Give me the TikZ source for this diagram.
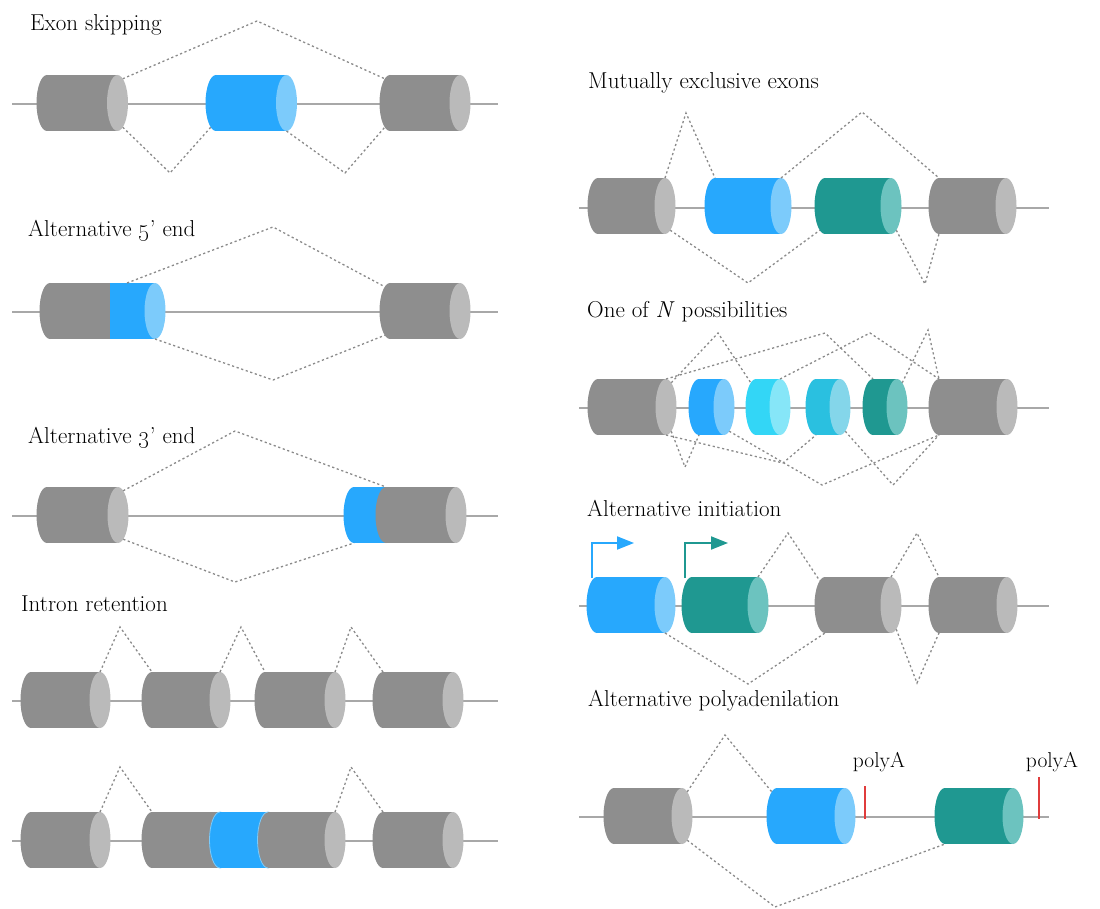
\documentclass[tikz,border=0pt]{standalone}
\usetikzlibrary{arrows.meta}
\definecolor{gbody}{HTML}{8E8E8E}
\definecolor{gcap}{HTML}{BABABA}
\definecolor{bbody}{HTML}{27A8FD}
\definecolor{bcap}{HTML}{7CCBFB}
\definecolor{tbody}{HTML}{1F9891}
\definecolor{tcap}{HTML}{6CC3BF}
\definecolor{cbody}{HTML}{33D6F6}
\definecolor{ccap}{HTML}{86E6F8}
\definecolor{sbody}{HTML}{2AC0E0}
\definecolor{scap}{HTML}{84D6EA}
\definecolor{dashc}{HTML}{8A8A8A}
\definecolor{linec}{HTML}{A8A8A8}
\definecolor{polyred}{HTML}{E03C3C}
\newcommand{\exseg}[4]{%
  \fill[#4] (#1,#3) ellipse[x radius=10.5pt,y radius=28pt];
  \fill[#4] (#1,#3-28) rectangle (#2,#3+28);}
\newcommand{\exsegedge}[5]{%
  \filldraw[fill=#4,draw=#5,line width=0.8pt] (#1,#3) ellipse[x radius=10.5pt,y radius=28pt];
  \fill[#4] (#1,#3-28) rectangle (#2,#3+28);}
\newcommand{\excapat}[3]{\fill[#3] (#1,#2) ellipse[x radius=10.5pt,y radius=28pt];}
\newcommand{\exanchors}[4]{%
  \coordinate (#1-tl) at (#2,#4-28);
  \coordinate (#1-bl) at (#2,#4+28);
  \coordinate (#1-tr) at (#3,#4-28);
  \coordinate (#1-br) at (#3,#4+28);
  \path (#2,#4) ++(120:10.5pt and 28pt) coordinate (#1-nw);
  \path (#2,#4) ++(240:10.5pt and 28pt) coordinate (#1-sw);
  \path (#3,#4) ++(60:10.5pt and 28pt) coordinate (#1-ne);
  \path (#3,#4) ++(-60:10.5pt and 28pt) coordinate (#1-se);}
\newcommand{\exon}[6]{\exseg{#2}{#3}{#4}{#5}\excapat{#3}{#4}{#6}\exanchors{#1}{#2}{#3}{#4}}
\begin{document}
\begin{tikzpicture}[x=1pt,y=-1pt,
  splice/.style={draw=dashc,line width=1.3pt,dash pattern=on 2.2pt off 2.6pt},
  dna/.style={draw=linec,line width=2pt},
  title/.style={anchor=base west,inner sep=0pt,font=\fontsize{23}{27}\selectfont,text=black},
  plabel/.style={anchor=base,inner sep=0pt,font=\fontsize{21.5}{25}\selectfont,text=black},
  tss/.style={line width=2pt,-{Triangle[length=17pt,width=13pt]}},
  polytick/.style={draw=polyred,line width=2pt}]
\useasboundingbox (0,0) rectangle (1100,909);

% ---------- Exon skipping ----------
\node[title] (t1) at (30,31) {Exon skipping};
\coordinate (l1a) at (12,104); \coordinate (l1b) at (498,104);
\draw[dna] (l1a) -- (l1b);
\exon{es1}{47}{117.5}{103}{gbody}{gcap}
\exon{es2}{216}{286.5}{103}{bbody}{bcap}
\exon{es3}{390}{460}{103}{gbody}{gcap}
\coordinate (es-up) at (257,21);
\coordinate (es-lo1) at (170,173);
\coordinate (es-lo2) at (345,173);
\draw[splice] (es1-ne) -- (es-up) -- (es3-nw);
\draw[splice] (es1-se) -- (es-lo1) -- (es2-sw);
\draw[splice] (es2-br) -- (es-lo2) -- (es3-sw);

% ---------- Alternative 5' end ----------
\node[title] (t2) at (28,237) {Alternative \oldstylenums{5}' end};
\coordinate (l2a) at (12,312); \coordinate (l2b) at (498,312);
\draw[dna] (l2a) -- (l2b);
\exseg{50}{110}{311}{gbody}
\fill[bbody] (110,283) rectangle (155,339);
\excapat{155}{311}{bcap}
\exanchors{f1}{50}{155}{311}
\coordinate (f1-bt) at (127,283);
\exon{f2}{390}{460}{311}{gbody}{gcap}
\coordinate (f-up) at (273,227);
\coordinate (f-lo) at (273,380);
\draw[splice] (f1-bt) -- (f-up) -- (f2-nw);
\draw[splice] (f1-br) -- (f-lo) -- (f2-sw);

% ---------- Alternative 3' end ----------
\node[title] (t3) at (28,443) {Alternative \oldstylenums{3}' end};
\coordinate (l3a) at (12,516); \coordinate (l3b) at (498,516);
\draw[dna] (l3a) -- (l3b);
\exon{g1}{47}{118}{515}{gbody}{gcap}
\exseg{354}{386}{515}{bbody}
\exseg{386}{456}{515}{gbody}
\excapat{456}{515}{gcap}
\exanchors{g2}{354}{456}{515}
\coordinate (g2-mid) at (386,487);
\coordinate (g-up) at (235,431);
\coordinate (g-lo) at (235,582);
\draw[splice] (g1-ne) -- (g-up) -- (g2-mid);
\draw[splice] (g1-se) -- (g-lo) -- (g2-bl);

% ---------- Intron retention ----------
\node[title] (t4) at (21,611) {Intron retention};
\coordinate (l4a) at (12,701); \coordinate (l4b) at (498,701);
\draw[dna] (l4a) -- (l4b);
\exon{ia1}{31}{100}{700}{gbody}{gcap}
\exon{ia2}{152}{220}{700}{gbody}{gcap}
\exon{ia3}{265}{335}{700}{gbody}{gcap}
\exon{ia4}{383}{453}{700}{gbody}{gcap}
\coordinate (ia-p1) at (120,627);
\coordinate (ia-p2) at (241,627);
\coordinate (ia-p3) at (351,627);
\draw[splice] (ia1-tr) -- (ia-p1) -- (ia2-tl);
\draw[splice] (ia2-tr) -- (ia-p2) -- (ia3-tl);
\draw[splice] (ia3-tr) -- (ia-p3) -- (ia4-tl);

\coordinate (l5a) at (12,841); \coordinate (l5b) at (498,841);
\draw[dna] (l5a) -- (l5b);
\exon{jb1}{31}{100}{840}{gbody}{gcap}
\exseg{152}{220}{840}{gbody}
\exsegedge{220}{268}{840}{bbody}{bcap}
\exsegedge{268}{335}{840}{gbody}{bcap}
\excapat{335}{840}{gcap}
\exanchors{jb2}{152}{335}{840}
\exon{jb4}{383}{453}{840}{gbody}{gcap}
\coordinate (jb-p1) at (120,767);
\coordinate (jb-p3) at (351,767);
\draw[splice] (jb1-tr) -- (jb-p1) -- (jb2-tl);
\draw[splice] (jb2-tr) -- (jb-p3) -- (jb4-tl);

% ---------- Mutually exclusive exons ----------
\node[title] (t5) at (588,89) {Mutually exclusive exons};
\coordinate (l6a) at (579,208); \coordinate (l6b) at (1049,208);
\draw[dna] (l6a) -- (l6b);
\exon{m1}{598}{665}{206}{gbody}{gcap}
\exon{m2}{715}{781}{206}{bbody}{bcap}
\exon{m3}{825}{891}{206}{tbody}{tcap}
\exon{m4}{939}{1006}{206}{gbody}{gcap}
\coordinate (m-p1) at (686,113);
\coordinate (m-p2) at (862,112);
\coordinate (m-v1) at (748,283);
\coordinate (m-v2) at (925,284);
\draw[splice] (m1-tr) -- (m-p1) -- (m2-tl);
\draw[splice] (m2-tr) -- (m-p2) -- (m4-tl);
\draw[splice] (m1-se) -- (m-v1) -- (m3-sw);
\draw[splice] (m3-se) -- (m-v2) -- (m4-bl);

% ---------- One of N possibilities ----------
\node[title] (t6) at (587,317) {One of \textit{N} possibilities};
\coordinate (l7a) at (579,408); \coordinate (l7b) at (1049,408);
\draw[dna] (l7a) -- (l7b);
\exon{n1}{598}{666}{407}{gbody}{gcap}
\exon{n2}{699}{724}{407}{bbody}{bcap}
\exon{n3}{756}{780}{407}{cbody}{ccap}
\exon{n4}{816}{840}{407}{sbody}{scap}
\exon{n5}{873}{897}{407}{tbody}{tcap}
\exon{n6}{939}{1007}{407}{gbody}{gcap}
\coordinate (n-p1) at (718,333);
\coordinate (n-p2) at (825,333);
\coordinate (n-p3) at (870,333);
\coordinate (n-p4) at (928,330);
\coordinate (n-v1) at (685,467);
\coordinate (n-v2) at (783,463);
\coordinate (n-v3) at (822,485);
\coordinate (n-v4) at (893,485);
\draw[splice] (n1-ne) -- (n-p1) -- (n3-nw);
\draw[splice] (n1-tr) -- (n-p2) -- (n5-tl);
\draw[splice] (n3-tr) -- (n-p3) -- (n6-tl);
\draw[splice] (n5-ne) -- (n-p4) -- (n6-tl);
\draw[splice] (n1-se) -- (n-v1) -- (n2-bl);
\draw[splice] (n1-br) -- (n-v2) -- (n4-bl);
\draw[splice] (n2-se) -- (n-v3) -- (n6-bl);
\draw[splice] (n4-se) -- (n-v4) -- (n6-bl);

% ---------- Alternative initiation ----------
\node[title] (t7) at (587,516) {Alternative initiation};
\coordinate (l8a) at (579,606); \coordinate (l8b) at (1049,606);
\draw[dna] (l8a) -- (l8b);
\exon{a1}{597}{665}{605}{bbody}{bcap}
\exon{a2}{692}{758}{605}{tbody}{tcap}
\exon{a3}{825}{891}{605}{gbody}{gcap}
\exon{a4}{939}{1007}{605}{gbody}{gcap}
\coordinate (a-p1) at (788,533);
\coordinate (a-p2) at (917,533);
\coordinate (a-v1) at (748,684);
\coordinate (a-v2) at (917,683);
\draw[splice] (a2-tr) -- (a-p1) -- (a3-nw);
\draw[splice] (a3-tr) -- (a-p2) -- (a4-tl);
\draw[splice] (a1-br) -- (a-v1) -- (a3-bl);
\draw[splice] (a3-se) -- (a-v2) -- (a4-bl);
\coordinate (a1-start) at (592,578);
\coordinate (a1-tip) at (634,543);
\coordinate (a2-start) at (685,578);
\coordinate (a2-tip) at (728,543);
\draw[tss,color=bbody] (a1-start) |- (a1-tip);
\draw[tss,color=tbody] (a2-start) |- (a2-tip);

% ---------- Alternative polyadenilation ----------
\node[title] (t8) at (588,706) {Alternative polyadenilation};
\coordinate (l9a) at (579,817); \coordinate (l9b) at (1049,817);
\draw[dna] (l9a) -- (l9b);
\exon{p1}{614}{682}{816}{gbody}{gcap}
\exon{p2}{777}{845}{816}{bbody}{bcap}
\exon{p3}{945}{1013}{816}{tbody}{tcap}
\coordinate (p-up) at (725,735);
\coordinate (p-lo) at (775,907);
\draw[splice] (p1-ne) -- (p-up) -- (p2-nw);
\draw[splice] (p1-se) -- (p-lo) -- (p3-bl);
\coordinate (r1a) at (865,786); \coordinate (r1b) at (865,819);
\coordinate (r2a) at (1039,777); \coordinate (r2b) at (1039,819);
\draw[polytick] (r1a) -- (r1b);
\draw[polytick] (r2a) -- (r2b);
\node[plabel] (pa1) at (879,767) {polyA};
\node[plabel] (pa2) at (1052,767) {polyA};
\end{tikzpicture}
\end{document}
